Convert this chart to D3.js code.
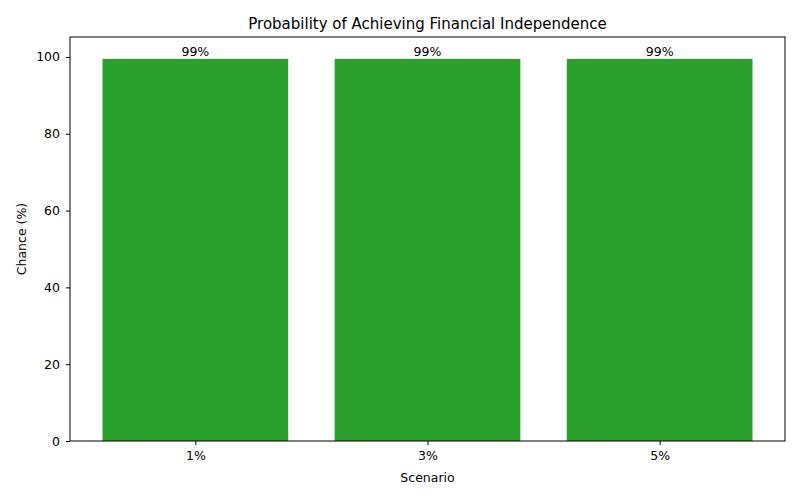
<!DOCTYPE html>
<html><head><meta charset="utf-8">
<script src="https://cdn.jsdelivr.net/npm/d3@7"></script>
<style>body{margin:0;background:#fff}text{font-family:"DejaVu Sans",sans-serif}</style>
</head><body><svg width="800" height="500"></svg>
<script>
// data
const scenarios = ["1%", "3%", "5%"];
const chances = [99.5, 99.5, 99.5];
const labels = ["99%", "99%", "99%"];
const yTicks = [0, 20, 40, 60, 80, 100];

const svg = d3.select("svg");
const plotLeft = 70, plotRight = 785, plotTop = 37, plotBottom = 441;

const x = d3.scaleLinear().domain([-0.54, 2.54]).range([plotLeft, plotRight]);
const y = d3.scaleLinear().domain([0, 105.2]).range([plotBottom, plotTop]);
const barW = x(0.8) - x(0);

svg.selectAll("rect.bar").data(chances).enter().append("rect")
    .attr("class", "bar")
    .attr("x", (d, i) => x(i) - barW / 2)
    .attr("y", d => y(d))
    .attr("width", barW)
    .attr("height", d => y(0) - y(d))
    .attr("fill", "#2ca02c");

svg.selectAll("text.val").data(chances).enter().append("text")
    .attr("class", "val")
    .attr("x", (d, i) => x(i)).attr("y", d => y(d) - 3)
    .attr("text-anchor", "middle").attr("font-size", 12.5)
    .text((d, i) => labels[i]);

// axes
const xAxis = svg.append("g").attr("transform", `translate(0,${plotBottom})`)
    .call(d3.axisBottom(x).tickValues([0, 1, 2]).tickFormat(i => scenarios[i]).tickSizeOuter(0).tickSize(4).tickPadding(6));
const yAxis = svg.append("g").attr("transform", `translate(${plotLeft},0)`)
    .call(d3.axisLeft(y).tickValues(yTicks).tickSizeOuter(0).tickSize(4).tickPadding(6));
[xAxis, yAxis].forEach(g => {
    g.selectAll("text").attr("font-size", 12.5).attr("fill", "#000").style("font-family", "DejaVu Sans");
    g.select(".domain").remove();
});

svg.append("rect").attr("x", plotLeft).attr("y", plotTop)
    .attr("width", plotRight - plotLeft).attr("height", plotBottom - plotTop)
    .attr("fill", "none").attr("stroke", "#000").attr("stroke-width", 1);

svg.append("text").attr("x", (plotLeft + plotRight) / 2).attr("y", 29)
    .attr("text-anchor", "middle").attr("font-size", 15)
    .text("Probability of Achieving Financial Independence");
svg.append("text").attr("x", (plotLeft + plotRight) / 2).attr("y", 482)
    .attr("text-anchor", "middle").attr("font-size", 12.5).text("Scenario");
svg.append("text").attr("transform", `translate(26,${(plotTop + plotBottom) / 2}) rotate(-90)`)
    .attr("text-anchor", "middle").attr("font-size", 12.5).text("Chance (%)");
</script></body></html>
